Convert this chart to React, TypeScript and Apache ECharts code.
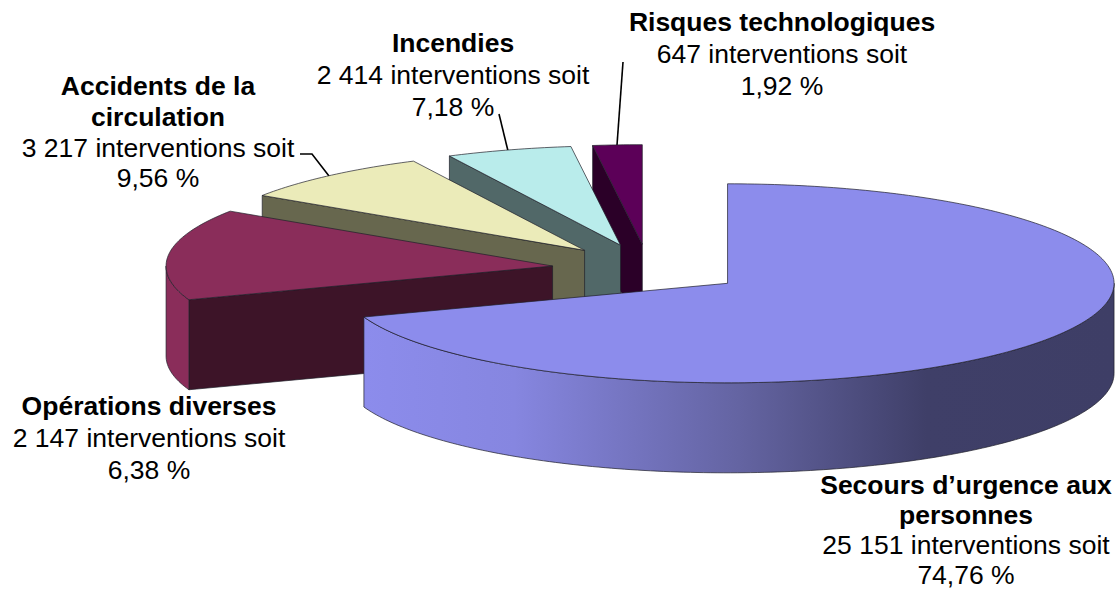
import React, { useEffect, useRef } from "react";
import * as echarts from "echarts";

// Shares of the circle as they are actually drawn in the picture (%)
const sliceNames = ["Secours d’urgence aux personnes", "Opérations diverses", "Accidents de la circulation", "Incendies", "Risques technologiques"];
const drawnShares = [69.5, 14.8, 8.4, 5.25, 2.05];
const interventions = ["25 151", "2 147", "3 217", "2 414", "647"];
const percents = ["74,76 %", "6,38 %", "9,56 %", "7,18 %", "1,92 %"];
const titleLines = [
  ["Secours d’urgence aux", "personnes"],
  ["Opérations diverses"],
  ["Accidents de la", "circulation"],
  ["Incendies"],
  ["Risques technologiques"],
];

// Layout and styles
const GEO = { cx: 648.5, cy: 269, a: 386.5, b: 99.5, depth: 90, explode: 0.25 };
const topColors = ["#8c8cec", "#8a2d5a", "#ebebb9", "#b9eceb", "#5c0058"];
const wallColors = ["#8c8cec", "#3d1428", "#67674e", "#516868", "#2b0028"];
const rimColors = ["", "#8a2d5a", "#67674e", "#516868", "#2b0028"];
const labelAnchors = [
  { x: 966, y: 485, step: 30 },
  { x: 149, y: 406, step: 32 },
  { x: 158, y: 86, step: 30.8 },
  { x: 453, y: 43, step: 32 },
  { x: 782, y: 22, step: 32 },
];
const leaders = [
  [[300, 154], [312, 154], [329, 176]],
  [[499, 114], [508, 151]],
  [[623, 62], [617, 145]],
];
const FONT = 26.5;
const STROKE = "#20202a";

function pointsFor(c: number[], from: number, to: number, dy: number) {
  const pts: number[][] = [];
  const n = Math.max(2, Math.ceil(Math.abs(to - from) / 1));
  for (let i = 0; i <= n; i++) {
    const t = ((from + ((to - from) * i) / n) * Math.PI) / 180;
    pts.push([c[0] + GEO.a * Math.sin(t), c[1] - GEO.b * Math.cos(t) + dy]);
  }
  return pts;
}

function renderSlice(params: any, api: any) {
  const start = api.value(0) * 3.6;
  const end = start + api.value(1) * 3.6;
  const i = params.dataIndex;
  const mid = ((start + end) / 2) * (Math.PI / 180);
  const c = [
    GEO.cx + GEO.explode * GEO.a * Math.sin(mid),
    GEO.cy - GEO.explode * GEO.b * Math.cos(mid),
  ];
  const base = (drawnShares.length - i) * 10;
  const children: any[] = [];
  const border = { stroke: STROKE, lineWidth: 0.7 };
  // cut wall at the start edge, visible when it faces the viewer
  if (start > 180 && start < 360) {
    const rim = pointsFor(c, start, start, 0)[0];
    children.push({
      type: "polygon",
      z2: base,
      shape: { points: [c, rim, [rim[0], rim[1] + GEO.depth], [c[0], c[1] + GEO.depth]] },
      style: { fill: wallColors[i], ...border },
    });
  }
  // outer rim, lower half of the ellipse only
  const r0 = Math.max(start, 90);
  const r1 = Math.min(end, 270);
  if (r1 > r0) {
    const upper = pointsFor(c, r0, r1, 0);
    const lower = pointsFor(c, r1, r0, GEO.depth);
    const fill =
      i === 0
        ? new echarts.graphic.LinearGradient(0, 0, 1, 0, [
            { offset: 0, color: "#8c8cec" },
            { offset: 0.2, color: "#8686e0" },
            { offset: 0.5, color: "#6464a2" },
            { offset: 0.75, color: "#3f3f68" },
            { offset: 1, color: "#3e3e66" },
          ])
        : rimColors[i];
    children.push({
      type: "polygon",
      z2: base + 1,
      shape: { points: upper.concat(lower) },
      style: { fill, ...border },
    });
  }
  // top face
  children.push({
    type: "polygon",
    z2: base + 2,
    shape: { points: [c, ...pointsFor(c, start, end, 0)] },
    style: { fill: topColors[i], ...border },
  });
  return { type: "group", children };
}

function labelElements() {
  const out: any[] = [];
  sliceNames.forEach((_, i) => {
    const anchor = labelAnchors[i];
    const lines = [
      ...titleLines[i].map((t) => ({ t, bold: true })),
      { t: `${interventions[i]} interventions soit`, bold: false },
      { t: percents[i], bold: false },
    ];
    lines.forEach((l, k) => {
      out.push({
        type: "text",
        x: anchor.x,
        y: anchor.y + k * anchor.step,
        style: {
          text: l.t,
          fill: "#000",
          textAlign: "center",
          textVerticalAlign: "middle",
          font: `${l.bold ? "bold " : ""}${FONT}px "Liberation Sans", Arial, sans-serif`,
        },
      });
    });
  });
  leaders.forEach((pts) =>
    out.push({
      type: "polyline",
      shape: { points: pts },
      style: { stroke: "#000", lineWidth: 1.6, fill: "none" },
    })
  );
  return out;
}

export default function App() {
  const ref = useRef<HTMLDivElement>(null);
  useEffect(() => {
    const chart = echarts.init(ref.current!, undefined, { renderer: "svg" });
    let acc = 0;
    const data = drawnShares.map((s, i) => {
      const row = { name: sliceNames[i], value: [acc, s] };
      acc += s;
      return row;
    });
    chart.setOption({
      animation: false,
      backgroundColor: "#fff",
      series: [
        {
          type: "custom",
          coordinateSystem: "none",
          renderItem: renderSlice,
          data,
          silent: true,
        },
      ],
      graphic: { elements: labelElements() },
    });
    return () => chart.dispose();
  }, []);
  return (
    <div
      ref={ref}
      style={{ position: "absolute", left: 0, top: 0, width: 1118, height: 589 }}
    />
  );
}
